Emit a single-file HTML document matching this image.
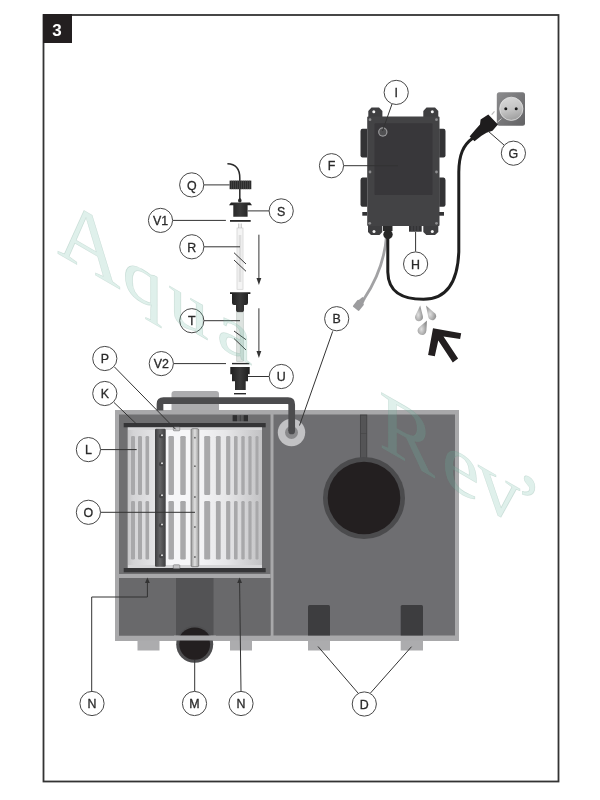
<!DOCTYPE html>
<html><head><meta charset="utf-8">
<style>
html,body{margin:0;padding:0;background:#fff;}
body{width:600px;height:800px;overflow:hidden;}
svg{display:block;will-change:transform;}
.lbl circle{fill:#fff;stroke:#474747;stroke-width:1;}
.lbl text{font-family:"Liberation Sans",sans-serif;font-size:12.4px;fill:#2a2a2a;stroke:#2a2a2a;stroke-width:0.3;text-anchor:middle;}
.ld{stroke:#333;stroke-width:1;fill:none;}
</style></head>
<body>
<svg width="600" height="800" viewBox="0 0 600 800">
<defs>
  <linearGradient id="capg" x1="0" x2="1" y1="0" y2="0">
    <stop offset="0" stop-color="#1e1e1e"/><stop offset="0.5" stop-color="#3a3a3a"/><stop offset="1" stop-color="#1e1e1e"/>
  </linearGradient>
  <linearGradient id="colg" x1="0" x2="1" y1="0" y2="0">
    <stop offset="0" stop-color="#9a9a9a"/><stop offset="0.5" stop-color="#e0e0e0"/><stop offset="1" stop-color="#9a9a9a"/>
  </linearGradient>
  <linearGradient id="pleat" x1="0" x2="1" y1="0" y2="0">
    <stop offset="0" stop-color="#3e3e40"/><stop offset="0.45" stop-color="#646466"/><stop offset="1" stop-color="#3e3e40"/>
  </linearGradient>
  <linearGradient id="sockg" x1="0" x2="1" y1="0" y2="1">
    <stop offset="0" stop-color="#8c8c8e"/><stop offset="1" stop-color="#626264"/>
  </linearGradient>
  <linearGradient id="sockc" x1="0" x2="0.3" y1="0" y2="1">
    <stop offset="0" stop-color="#dcdcdc"/><stop offset="0.6" stop-color="#c4c4c4"/><stop offset="1" stop-color="#a4a4a4"/>
  </linearGradient>
  <radialGradient id="dropg" cx="0.4" cy="0.6" r="0.6">
    <stop offset="0" stop-color="#e0e0e0"/><stop offset="1" stop-color="#909090"/>
  </radialGradient>
  <linearGradient id="lpan" x1="0" x2="1" y1="0" y2="0">
    <stop offset="0" stop-color="#c6c6c8"/><stop offset="0.2" stop-color="#d4d4d6"/><stop offset="1" stop-color="#e4e4e6"/>
  </linearGradient>
  <linearGradient id="rpan" x1="0" x2="1" y1="0" y2="0">
    <stop offset="0" stop-color="#f8f8fa"/><stop offset="0.5" stop-color="#e6e6e8"/><stop offset="1" stop-color="#c2c2c4"/>
  </linearGradient>
</defs>

<!-- frame -->
<rect x="43.5" y="15" width="515" height="766.5" fill="none" stroke="#333" stroke-width="1.8"/>
<rect x="43" y="14" width="29" height="29" fill="#231f20"/>
<text x="57" y="36" font-family="Liberation Sans" font-weight="bold" font-size="17" fill="#fff" text-anchor="middle">3</text>


<!-- ===== TANK ===== -->
<!-- block behind pipe -->
<path d="M171.5 412 V394 Q171.5 391 174.5 391 H216 Q219 391 219 394 V412 Z" fill="#acacae"/>
<!-- pipe -->

<!-- tank outer -->
<rect x="115" y="410" width="344" height="231" fill="#a8a8aa"/>
<rect x="119" y="414.5" width="151.5" height="221" fill="#6f6f71"/>
<rect x="273.5" y="414.5" width="181.5" height="221" fill="#6e6e71"/>
<!-- left lower divider -->
<rect x="119" y="574" width="151.5" height="4" fill="#a8a8aa"/>
<rect x="119" y="578" width="151.5" height="57.5" fill="#69696b"/>
<!-- M column -->
<rect x="176" y="578" width="37.5" height="57.5" fill="#535355"/>
<!-- feet -->
<rect x="137.5" y="640.5" width="22" height="10" fill="#acacae"/>
<rect x="230" y="640.5" width="22" height="10" fill="#acacae"/>
<rect x="308" y="640.5" width="22" height="10" fill="#acacae"/>
<rect x="400.7" y="640.5" width="22.3" height="10" fill="#acacae"/>
<!-- dark blocks -->
<path d="M308 635.5 V606.5 Q308 605 309.5 605 H328.5 Q330 605 330 606.5 V635.5 Z" fill="#3d3d3f"/>
<path d="M400.7 635.5 V606.5 Q400.7 605 402.2 605 H421.5 Q423 605 423 606.5 V635.5 Z" fill="#3d3d3f"/>
<!-- M pipe circle -->
<circle cx="194.7" cy="644.3" r="18.5" fill="#4e4e50"/>
<circle cx="194.7" cy="644.3" r="15.4" fill="#231f20"/>
<clipPath id="mclip"><rect x="170" y="600" width="50" height="36"/></clipPath>
<circle cx="194.7" cy="644.3" r="16.9" fill="#231f20" clip-path="url(#mclip)"/>
<rect x="174" y="635.5" width="42" height="5" fill="#a8a8aa"/>
<!-- B circle -->
<circle cx="291.5" cy="432.5" r="13.7" fill="#c2c2c4"/>
<circle cx="291.5" cy="432.5" r="6.5" fill="#8a8a8c"/>
<path d="M160 410.5 V404 Q160 400.7 163.5 400.7 H288 Q291.7 400.7 291.7 404.5 V431" fill="none" stroke="#4c4c4e" stroke-width="6.7" stroke-linecap="butt"/>
<circle cx="291.7" cy="431" r="3.35" fill="#4c4c4e"/>
<!-- big black circle and stem -->
<rect x="360.4" y="415" width="6.4" height="44" fill="#545456" stroke="#404042" stroke-width="0.8"/>
<path d="M360.4 433.5 H366.8" stroke="#444446" stroke-width="0.6"/>
<circle cx="364" cy="498" r="41" fill="#4b4b4d"/>
<circle cx="364" cy="498" r="36.3" fill="#231f20"/>
<!-- small dark thing on top bar -->
<rect x="232.7" y="415.2" width="15.3" height="6" fill="#555557"/>
<rect x="232.7" y="415.2" width="4.3" height="6" fill="#2e2e30"/><rect x="243.7" y="415.2" width="4.3" height="6" fill="#2e2e30"/>
<path d="M240.3 415.2 V421.2" stroke="#3a3a3c" stroke-width="0.8"/>
<!-- K bars -->
<rect x="123.7" y="423" width="142" height="4.3" fill="#353537"/>
<rect x="123.7" y="568" width="142" height="4.3" fill="#353537"/>
<!-- filter -->
<rect x="127.7" y="427.3" width="134.3" height="140.7" fill="#d6d6d8"/>
<rect x="128" y="430" width="27" height="135" fill="url(#lpan)"/>
<rect x="155" y="430" width="36" height="135" fill="#f6f6f8"/>
<rect x="191" y="430" width="71" height="135" fill="url(#rpan)"/>
<rect x="131.00" y="436" width="4" height="59" rx="1.2" fill="#a8a8aa"/>
<rect x="131.00" y="501" width="4" height="58.5" rx="1.2" fill="#a8a8aa"/>
<rect x="138.00" y="436" width="4" height="59" rx="1.2" fill="#a8a8aa"/>
<rect x="138.00" y="501" width="4" height="58.5" rx="1.2" fill="#a8a8aa"/>
<rect x="145.50" y="436" width="3.6" height="59" rx="1.2" fill="#a8a8aa"/>
<rect x="145.50" y="501" width="3.6" height="58.5" rx="1.2" fill="#a8a8aa"/>
<rect x="168.45" y="436" width="5.5" height="59" rx="1.2" fill="#a8a8aa"/>
<rect x="168.45" y="501" width="5.5" height="58.5" rx="1.2" fill="#a8a8aa"/>
<rect x="180.25" y="436" width="5.5" height="59" rx="1.2" fill="#a8a8aa"/>
<rect x="180.25" y="501" width="5.5" height="58.5" rx="1.2" fill="#a8a8aa"/>
<rect x="204.20" y="436" width="6" height="59" rx="1.2" fill="#a8a8aa"/>
<rect x="204.20" y="501" width="6" height="58.5" rx="1.2" fill="#a8a8aa"/>
<rect x="215.90" y="436" width="4.8" height="59" rx="1.2" fill="#a8a8aa"/>
<rect x="215.90" y="501" width="4.8" height="58.5" rx="1.2" fill="#a8a8aa"/>
<rect x="226.10" y="436" width="4.2" height="59" rx="1.2" fill="#a8a8aa"/>
<rect x="226.10" y="501" width="4.2" height="58.5" rx="1.2" fill="#a8a8aa"/>
<rect x="234.00" y="436" width="3.6" height="59" rx="1.2" fill="#a8a8aa"/>
<rect x="234.00" y="501" width="3.6" height="58.5" rx="1.2" fill="#a8a8aa"/>
<rect x="241.30" y="436" width="3.4" height="59" rx="1.2" fill="#a8a8aa"/>
<rect x="241.30" y="501" width="3.4" height="58.5" rx="1.2" fill="#a8a8aa"/>
<rect x="248.40" y="436" width="3.2" height="59" rx="1.2" fill="#a8a8aa"/>
<rect x="248.40" y="501" width="3.2" height="58.5" rx="1.2" fill="#a8a8aa"/>
<rect x="255.50" y="436" width="3" height="59" rx="1.2" fill="#a8a8aa"/>
<rect x="255.50" y="501" width="3" height="58.5" rx="1.2" fill="#a8a8aa"/>
<!-- pleat column (dark) -->
<rect x="155" y="428.7" width="10.7" height="138" rx="1.2" fill="url(#pleat)"/>
<g><circle cx="161.2" cy="436" r="2.3" fill="#444446"/><circle cx="162" cy="435.2" r="1" fill="#e0e0e0"/><circle cx="161.2" cy="464" r="2.3" fill="#444446"/><circle cx="162" cy="463.2" r="1" fill="#e0e0e0"/><circle cx="161.2" cy="496" r="2.3" fill="#444446"/><circle cx="162" cy="495.2" r="1" fill="#e0e0e0"/><circle cx="161.2" cy="525.3" r="2.3" fill="#444446"/><circle cx="162" cy="524.5" r="1" fill="#e0e0e0"/><circle cx="161.2" cy="556" r="2.3" fill="#444446"/><circle cx="162" cy="555.2" r="1" fill="#e0e0e0"/></g>
<!-- light column O -->
<rect x="191" y="428.7" width="7.8" height="138" rx="1.5" fill="url(#colg)" stroke="#6a6a6a" stroke-width="0.7"/>
<g fill="#666"><circle cx="194.9" cy="437.7" r="0.9"/><circle cx="194.9" cy="466.2" r="0.9"/><circle cx="194.9" cy="497" r="0.9"/><circle cx="194.9" cy="527" r="0.9"/><circle cx="194.9" cy="557" r="0.9"/></g>
<!-- small clips P -->
<rect x="173.3" y="427" width="6.5" height="3.8" rx="0.8" fill="#c4c4c6" stroke="#707072" stroke-width="0.6"/>
<rect x="173.3" y="564.8" width="6.5" height="3.8" rx="0.8" fill="#c4c4c6" stroke="#707072" stroke-width="0.6"/>


<!-- ===== UV LAMP PARTS ===== -->
<!-- cable Q -->
<path d="M227.4 163.7 Q239.8 164 239.8 178 V200" fill="none" stroke="#2a2a2a" stroke-width="1.5"/>
<!-- knurled nut -->
<rect x="229.6" y="180.6" width="21.7" height="8.6" fill="#2a2a2a"/>
<path d="M231.6 180.6V189.2M233.6 180.6V189.2M235.6 180.6V189.2M237.6 180.6V189.2M239.6 180.6V189.2M241.6 180.6V189.2M243.6 180.6V189.2M245.6 180.6V189.2M247.6 180.6V189.2M249.6 180.6V189.2" stroke="#5a5a5a" stroke-width="0.6"/>
<path d="M239.8 197.5 Q242 199.5 241.6 201 Q241 202.6 239.8 202.6 Q238.6 202.6 238 201 Q237.6 199.5 239.8 197.5 Z" fill="#2a2a2a"/>
<!-- S cap -->
<path d="M231 202.6 H250 L252 205.3 H247.6 V216.8 H233.3 V205.3 H229 Z" fill="url(#capg)"/>
<!-- V1 washer -->
<rect x="230" y="220" width="20.7" height="1.8" fill="#2a2a2a"/>
<!-- lamp R -->
<rect x="237" y="228" width="6" height="61.3" fill="#f4f4f4" stroke="#cfcfcf" stroke-width="0.7"/>
<rect x="238.7" y="235" width="2.6" height="47" fill="#dedede"/>
<path d="M238.8 223.5V228M241.2 223.5V228" stroke="#aaa" stroke-width="0.8"/>
<path d="M234 252.7 L246 264 M234 260 L246 271.3" stroke="#3a3a3a" stroke-width="1" fill="none"/>
<!-- arrow 1 -->
<path d="M258.9 234.7 V279" stroke="#333" stroke-width="1"/>
<path d="M256.5 278 L261.3 278 L258.9 285 Z" fill="#333"/>
<!-- T cap -->
<path d="M230 292.3 H250.4 V294 H248 V303 Q248 305 246 305 H244 V310.3 Q244 312.3 242 312.3 H238 Q236 312.3 236 310.3 V305 H234 Q232 305 232 303 V294 H230 Z" fill="url(#capg)"/>
<!-- quartz tube T -->
<rect x="236.7" y="312.3" width="6.6" height="49" fill="#dde3e0" stroke="#bfc7c3" stroke-width="0.7"/>
<path d="M234 331 L246 339.7 M234 338.5 L246 350" stroke="#3a3a3a" stroke-width="1" fill="none"/>
<!-- arrow 2 -->
<path d="M258.9 308.3 V352" stroke="#333" stroke-width="1"/>
<path d="M256.5 351 L261.3 351 L258.9 358 Z" fill="#333"/>
<!-- V2 washer -->
<rect x="232" y="362.9" width="17.3" height="1.4" fill="#2a2a2a"/>
<!-- U fitting -->
<path d="M230.3 367 H249.7 V374.3 H248 V381.3 H245.7 V390 H235 V381.3 H232 V374.3 H230.3 Z" fill="url(#capg)"/>
<rect x="234" y="393" width="12" height="1.4" fill="#2a2a2a"/>


<!-- ===== CONTROL BOX ===== -->
<!-- gray cable -->
<path d="M386.5 236 C385 256 378 278 364 299" fill="none" stroke="#a2a2a4" stroke-width="2.8"/>
<g transform="translate(359 304.5) rotate(-52)" fill="#9c9c9e"><rect x="-5.5" y="-4" width="9" height="8" rx="1.2"/><path d="M3 -3 L8 -1.8 V1.8 L3 3 Z"/></g>
<!-- black power cable -->
<path d="M387.8 236 V272 C388.3 293 403 299.3 423.5 299.3 C446 299.3 457.5 284 458.8 252 V172 C459 155 463 145 473 138" fill="none" stroke="#1e1e1e" stroke-width="3"/>
<!-- side tabs -->
<g fill="#333335">
<path d="M367.2 128.7 H362.5 Q360.5 128.7 360.5 131 V155.5 Q360.5 157.6 362.5 157.6 H367.2 Z"/>
<path d="M367.2 177.5 H362.5 Q360.5 177.5 360.5 180 V204.5 Q360.5 206.7 362.5 206.7 H367.2 Z"/>
<rect x="362.3" y="212" width="5" height="3.7"/>
<path d="M439.2 128.7 H443.5 Q445.5 128.7 445.5 131 V155.5 Q445.5 157.6 443.5 157.6 H439.2 Z"/>
<path d="M439.2 177.5 H443.5 Q445.5 177.5 445.5 180 V204.5 Q445.5 206.7 443.5 206.7 H439.2 Z"/>
<rect x="439" y="212" width="5" height="3.7"/>
</g>
<!-- ears -->
<g fill="#3e3e40">
<path d="M368.3 117 V111 L371.5 107.6 H379 L382.4 111 V117 Z"/>
<path d="M423.3 117 V111 L426.5 107.6 H435 L438.3 111 V117 Z"/>
<path d="M368 225 V232 L371 235 H379.5 L382.3 232 V225 Z"/>
<path d="M423.3 225 V232 L426.3 235 H435 L438.3 232 V225 Z"/>
</g>
<g fill="#f4f4f4">
<circle cx="373.8" cy="111.8" r="1.5"/><circle cx="432.3" cy="111.8" r="1.5"/>
<circle cx="374" cy="231.5" r="1.5"/><circle cx="432.3" cy="231.5" r="1.5"/>
</g>
<!-- body -->
<rect x="367.2" y="116.6" width="72.3" height="109.4" rx="1" fill="#434345"/>
<rect x="374.5" y="123.2" width="58" height="71.8" rx="1" fill="#38373a"/>
<g fill="#8c8c8e">
<circle cx="370" cy="119.7" r="1.4"/><circle cx="436.5" cy="119.7" r="1.4"/>
<circle cx="370" cy="172" r="1.4"/><circle cx="436.5" cy="172" r="1.4"/>
<circle cx="369.7" cy="223.3" r="1.4"/><circle cx="436.5" cy="223.3" r="1.4"/>
</g>
<!-- I button -->
<circle cx="382.8" cy="132" r="4.7" fill="#9a9a9c"/>
<circle cx="382.8" cy="132" r="3.5" fill="#505052"/>
<!-- gland -->
<rect x="383" y="226" width="9.5" height="5" fill="#2a2a2a"/>
<circle cx="388" cy="234.5" r="4.7" fill="#262626"/>
<!-- H connector -->
<rect x="409" y="226" width="12.7" height="5.7" fill="#343436"/>
<path d="M412 226V231.7M415 226V231.7M418 226V231.7" stroke="#5a5a5c" stroke-width="0.7"/>
<!-- socket -->
<rect x="496.8" y="92.3" width="28.2" height="33.4" rx="2.5" fill="url(#sockg)"/>
<circle cx="511.3" cy="108.8" r="11.6" fill="url(#sockc)" stroke="#e4e4e4" stroke-width="0.8"/>
<circle cx="505.8" cy="108.8" r="1.5" fill="#1a1a1a"/><circle cx="516.2" cy="108.8" r="1.5" fill="#1a1a1a"/>
<!-- plug -->
<path d="M491.7 114.6 L494.5 111.3" stroke="#b8b8b8" stroke-width="1.1"/>
<path d="M497.3 122.3 L501.5 118.6" stroke="#c8c8c8" stroke-width="1"/>
<path d="M488.3 114.6 L497.9 124.6 L492.5 130.8 L486.5 132.8 L481.5 135.8 L474.5 141.3 L469.6 136.6 L475.5 129.5 L480 124.5 L480.6 119.5 Z" fill="#1e1c1d"/>
<!-- drops -->
<path d="M420.2 305.5 L422.88 316.23 A4 4 0 1 1 415.40 315.46 Z" fill="url(#dropg)"/>
<path d="M426.0 305.5 L434.83 313.18 A4 4 0 1 1 428.28 316.98 Z" fill="url(#dropg)"/>
<path d="M427.0 320.5 L426.39 330.86 A4.4 4.4 0 1 1 419.13 327.26 Z" fill="url(#dropg)"/>
<!-- big arrow -->
<path d="M433 328.3 L461.2 333.3 L460.1 339.1 L443.5 336.4 L458.1 358.6 L452.8 362.4 L438.3 340.5 L434.8 356.3 L428.1 355.1 Z" fill="#231f20"/>

<!-- ===== LEADERS ===== -->
<path class="ld" d="M203.9 184.9 H229.6"/>
<path class="ld" d="M247.6 210.9 H269.1"/>
<path class="ld" d="M172.6 220.4 H225.9"/>
<path class="ld" d="M203.9 246.8 H240"/>
<path class="ld" d="M203.9 320.7 H240"/>
<path class="ld" d="M173.4 363.6 H226"/>
<path class="ld" d="M248 376.5 H269.2"/>
<path class="ld" d="M114.5 367 L175.5 429.2"/>
<path class="ld" d="M114 402.5 L137 424.5"/>
<path class="ld" d="M100.5 449.6 H136.7"/>
<path class="ld" d="M100.5 512.3 H195"/>
<path class="ld" d="M332.7 331.3 L299.5 425.5"/>
<path class="ld" d="M91.7 691.5 V597 H147.4 V582"/>
<path d="M145 583 L149.8 583 L147.4 577.5 Z" fill="#333"/>
<path class="ld" d="M241 691.5 L239.6 582"/>
<path d="M237.2 583 L242 583 L239.6 577.5 Z" fill="#333"/>
<path class="ld" d="M194.7 691.5 V660"/>
<path class="ld" d="M358 693 L318 646.5 M370.5 693 L411.5 646.7"/>
<path class="ld" d="M343.7 165.7 H398"/>
<path class="ld" d="M392 104 L382.5 131"/>
<path class="ld" d="M415.6 232 V251.6"/>
<path class="ld" d="M488 131 L504 145"/>
<g class="lbl"><circle cx="191.7" cy="184.9" r="12.1"/><text x="191.7" y="189.6">Q</text></g>
<g class="lbl"><circle cx="281.2" cy="210.9" r="12.1"/><text x="281.2" y="215.6">S</text></g>
<g class="lbl"><circle cx="160.5" cy="220.4" r="12.1"/><text x="160.5" y="225.1">V1</text></g>
<g class="lbl"><circle cx="191.8" cy="246.8" r="12.1"/><text x="191.8" y="251.5">R</text></g>
<g class="lbl"><circle cx="191.8" cy="320.7" r="12.1"/><text x="191.8" y="325.4">T</text></g>
<g class="lbl"><circle cx="161.3" cy="363.6" r="12.1"/><text x="161.3" y="368.3">V2</text></g>
<g class="lbl"><circle cx="281.3" cy="376.5" r="12.1"/><text x="281.3" y="381.2">U</text></g>
<g class="lbl"><circle cx="104.8" cy="358.5" r="12.1"/><text x="104.8" y="363.2">P</text></g>
<g class="lbl"><circle cx="104.8" cy="393.5" r="12.1"/><text x="104.8" y="398.2">K</text></g>
<g class="lbl"><circle cx="88.4" cy="449.6" r="12.1"/><text x="88.4" y="454.3">L</text></g>
<g class="lbl"><circle cx="88.4" cy="512.3" r="12.1"/><text x="88.4" y="517.0">O</text></g>
<g class="lbl"><circle cx="336.7" cy="318.7" r="12.1"/><text x="336.7" y="323.4">B</text></g>
<g class="lbl"><circle cx="92" cy="703.5" r="12.1"/><text x="92" y="708.2">N</text></g>
<g class="lbl"><circle cx="194.5" cy="703.5" r="12.1"/><text x="194.5" y="708.2">M</text></g>
<g class="lbl"><circle cx="241" cy="703.5" r="12.1"/><text x="241" y="708.2">N</text></g>
<g class="lbl"><circle cx="364.3" cy="704" r="12.1"/><text x="364.3" y="708.7">D</text></g>
<g class="lbl"><circle cx="396.2" cy="92.4" r="12.1"/><text x="396.2" y="97.1">I</text></g>
<g class="lbl"><circle cx="331.5" cy="165.7" r="12.1"/><text x="331.5" y="170.4">F</text></g>
<g class="lbl"><circle cx="415.6" cy="264" r="12.1"/><text x="415.6" y="268.7">H</text></g>
<g class="lbl"><circle cx="513.4" cy="153.2" r="12.1"/><text x="513.4" y="157.9">G</text></g>
<!-- ===== WATERMARK ===== -->
<g font-family="Liberation Serif" font-size="88" fill="#6cbca5" fill-opacity="0.22" stroke="#6a9a8a" stroke-opacity="0.25" stroke-width="0.6">
<text transform="translate(57 253) skewY(30)">A</text>
<text transform="translate(57 253) skewY(30) scale(1.15 1)" font-size="70"><tspan x="57">q</tspan><tspan x="97">u</tspan><tspan x="139">a</tspan></text>
<text transform="translate(379 446) skewY(30)" font-size="84"><tspan x="0">R</tspan><tspan x="63">e</tspan><tspan x="99">v</tspan><tspan x="136">’</tspan></text>
</g>
</svg>
</body></html>
